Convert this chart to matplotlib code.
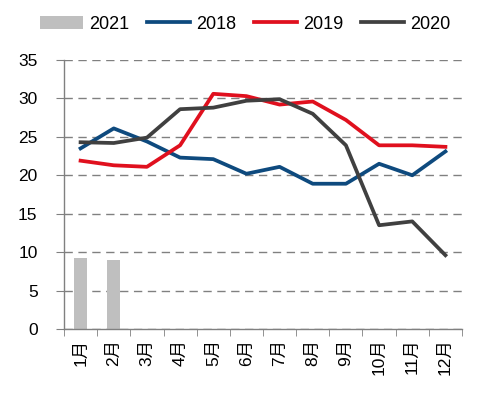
import matplotlib
matplotlib.use("Agg")
import matplotlib.pyplot as plt
import numpy as np

plt.rcParams['font.family'] = ['Liberation Sans', 'Noto Sans CJK SC', 'DejaVu Sans']

months = ['1月', '2月', '3月', '4月', '5月', '6月', '7月', '8月', '9月', '10月', '11月', '12月']
y2018 = [23.5, 26.1, 24.4, 22.3, 22.1, 20.2, 21.1, 18.9, 18.9, 21.5, 20.0, 23.1]
y2019 = [21.9, 21.3, 21.1, 23.9, 30.6, 30.3, 29.2, 29.6, 27.2, 23.9, 23.9, 23.7]
y2020 = [24.3, 24.2, 24.9, 28.6, 28.8, 29.7, 29.9, 28.0, 23.9, 13.5, 14.0, 9.6]
y2021 = [9.3, 9.0]

x = np.arange(len(months))

fig = plt.figure(figsize=(4.88, 3.94), dpi=100)
ax = fig.add_axes([64 / 488, 65 / 394, 398 / 488, 269 / 394])

b = ax.bar(x[:len(y2021)], y2021, width=0.4, color='#BFBFBF', label='2021', zorder=2)
l1, = ax.plot(x, y2018, color='#0E4A7E', lw=2.7, label='2018', zorder=3)
l2, = ax.plot(x, y2019, color='#E0101E', lw=2.7, label='2019', zorder=3)
l3, = ax.plot(x, y2020, color='#404040', lw=2.7, label='2020', zorder=4)

ax.set_xlim(-0.5, 11.5)
ax.set_ylim(0, 35)
ax.set_yticks(np.arange(0, 36, 5))
ax.yaxis.grid(True, linestyle=(0, (6, 4)), color='#808080', lw=1)
ax.set_axisbelow(True)

ax.set_xticks(x)
ax.set_xticklabels(months, rotation=90, fontsize=12.5)
ax.set_xticks(np.arange(-0.5, 12, 1), minor=True)
ax.tick_params(axis='x', which='major', length=0, pad=7)
ax.tick_params(axis='x', which='minor', length=5, color='#808080', direction='out')
ax.tick_params(axis='y', length=6, color='#808080', pad=13, labelsize=12.5)

for s in ['top', 'right']:
    ax.spines[s].set_visible(False)
for s in ['left', 'bottom']:
    ax.spines[s].set_color('#808080')
    ax.spines[s].set_linewidth(1)

ax.legend([b, l1, l2, l3], ['2021', '2018', '2019', '2020'],
          loc='lower center', bbox_to_anchor=(0.455, 1.075), ncol=4, frameon=False,
          fontsize=13, handlelength=2.4, handletextpad=0.3, columnspacing=1.0,
          borderaxespad=0)

fig.savefig('out.png', dpi=100)
